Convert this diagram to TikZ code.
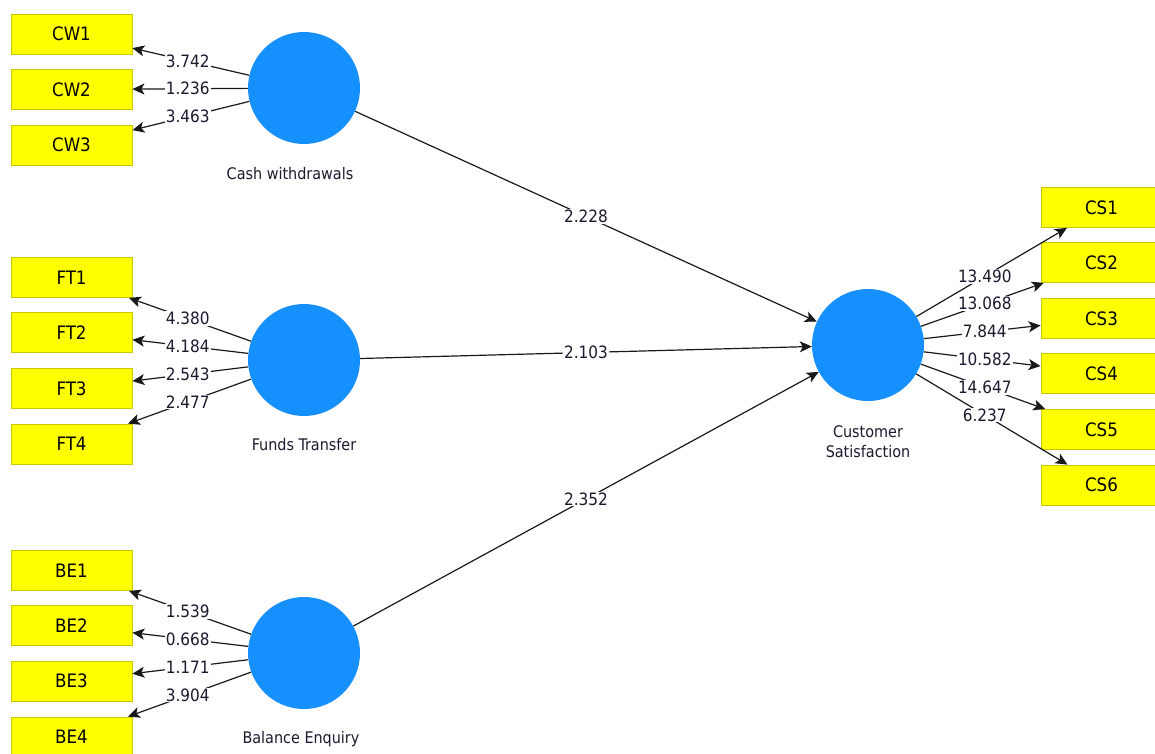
\documentclass[tikz,border=0pt]{standalone}
\usepackage{fontspec}
\setmainfont{DejaVu Sans Condensed}
\usetikzlibrary{arrows.meta,calc}
\definecolor{lvblue}{HTML}{1790FF}
\definecolor{indyellow}{HTML}{FFFF00}
\definecolor{indborder}{HTML}{C8C800}
\definecolor{txt}{HTML}{1A1A2E}
\tikzset{
  ind/.style={draw=indborder,line width=0.8pt,fill=indyellow,minimum width=121pt,minimum height=40pt,inner sep=0pt,font=\fontsize{18.5}{20}\selectfont,text=black},
  lv/.style={circle,fill=lvblue,minimum size=112pt,inner sep=0pt},
  lvname/.style={font=\fontsize{16}{20}\selectfont,text=txt,align=center},
  conn/.style={draw=black!90,line width=1.2pt,-{Stealth[length=12pt,width=11pt,inset=3pt]}},
  lab/.style={fill=white,inner sep=1pt,font=\fontsize{17}{19}\selectfont,text=txt}
}
\begin{document}
\begin{tikzpicture}[x=1pt,y=-1pt]
\useasboundingbox (0,0) rectangle (1155,753);
\clip (0,0) rectangle (1155,753);
% latent variables
\node[lv] (cw) at (304,88) {};
\node[lv] (ft) at (304,360) {};
\node[lv] (be) at (304,653) {};
\node[lv] (cs) at (868,345) {};
\node[lvname] (cwn) at (290,174) {Cash withdrawals};
\node[lvname] (ftn) at (304,445) {Funds Transfer};
\node[lvname] (ben) at (301,739) {Balance Enquiry};
\node[lvname] (csn) at (868,442) {Customer\\Satisfaction};
% indicators
\node[ind] (cw1) at (71.5,34) {CW1};
\node[ind] (cw2) at (71.5,89.5) {CW2};
\node[ind] (cw3) at (71.5,145) {CW3};
\node[ind] (ft1) at (71.5,277.5) {FT1};
\node[ind] (ft2) at (71.5,332.5) {FT2};
\node[ind] (ft3) at (71.5,388.5) {FT3};
\node[ind] (ft4) at (71.5,444) {FT4};
\node[ind] (be1) at (71.5,570.5) {BE1};
\node[ind] (be2) at (71.5,625.5) {BE2};
\node[ind] (be3) at (71.5,681) {BE3};
\node[ind] (be4) at (71.5,737) {BE4};
\node[ind] (cs1) at (1101.5,207.5) {CS1};
\node[ind] (cs2) at (1101.5,262.5) {CS2};
\node[ind] (cs3) at (1101.5,318.5) {CS3};
\node[ind] (cs4) at (1101.5,373.5) {CS4};
\node[ind] (cs5) at (1101.5,429.5) {CS5};
\node[ind] (cs6) at (1101.5,485) {CS6};
% connectors
\foreach \a/\b/\v in {cw/cw1/3.742,cw/cw2/1.236,cw/cw3/3.463,
  ft/ft1/4.380,ft/ft2/4.184,ft/ft3/2.543,ft/ft4/2.477,
  be/be1/1.539,be/be2/0.668,be/be3/1.171,be/be4/3.904,
  cs/cs1/13.490,cs/cs2/13.068,cs/cs3/7.844,cs/cs4/10.582,cs/cs5/14.647,cs/cs6/6.237,
  cw/cs/2.228,ft/cs/2.103,be/cs/2.352}{
  \draw[conn] (\a) -- (\b);
  \node[lab] at ($(\a.center)!0.5!(\b.center)$) {\v};
}
\end{tikzpicture}
\end{document}
